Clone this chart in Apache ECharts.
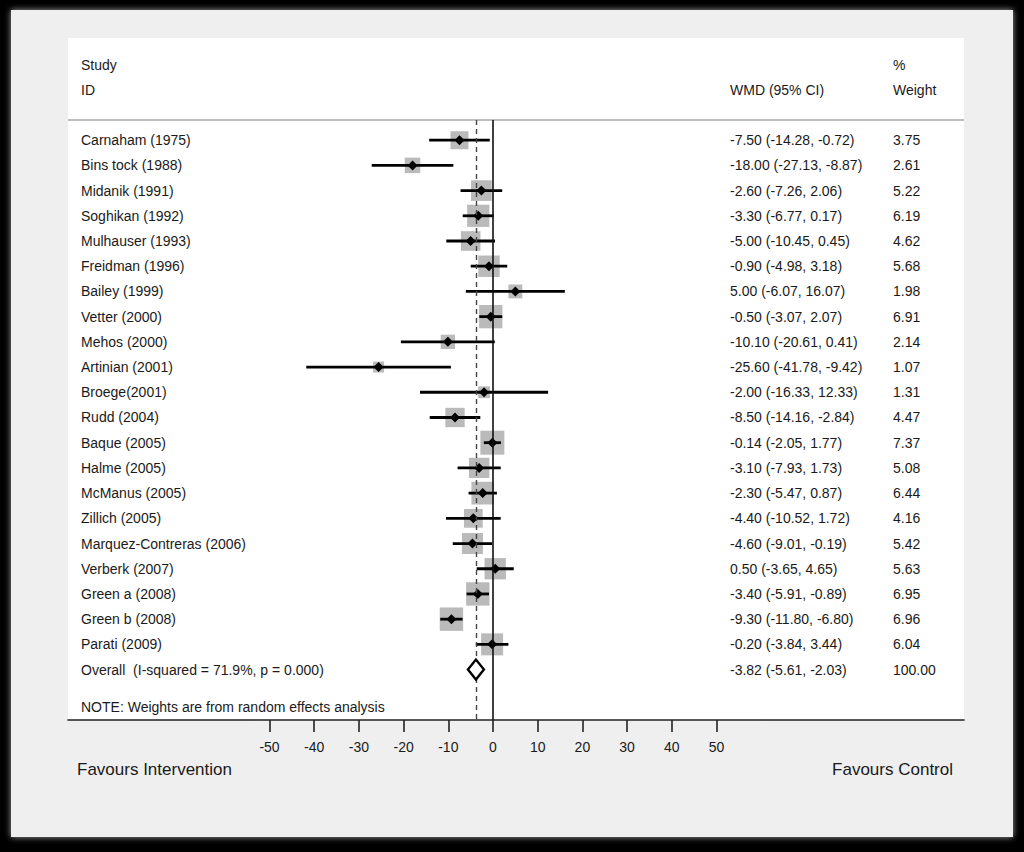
<!DOCTYPE html>
<html>
<head>
<meta charset="utf-8">
<script src="https://cdn.jsdelivr.net/npm/echarts@6/dist/echarts.min.js"></script>
<style>
html,body{margin:0;padding:0;background:#000;}
#chart{width:1024px;height:852px;}
</style>
</head>
<body>
<div id="chart"></div>
<script>
// ---- data ----
const studies = ['Carnaham (1975)', 'Bins tock (1988)', 'Midanik (1991)', 'Soghikan (1992)', 'Mulhauser (1993)',
  'Freidman (1996)', 'Bailey (1999)', 'Vetter (2000)', 'Mehos (2000)', 'Artinian (2001)', 'Broege(2001)',
  'Rudd (2004)', 'Baque (2005)', 'Halme (2005)', 'McManus (2005)', 'Zillich (2005)',
  'Marquez-Contreras (2006)', 'Verberk (2007)', 'Green a (2008)', 'Green b (2008)', 'Parati (2009)'];
const estimates = [-7.50, -18.00, -2.60, -3.30, -5.00, -0.90, 5.00, -0.50, -10.10, -25.60, -2.00,
  -8.50, -0.14, -3.10, -2.30, -4.40, -4.60, 0.50, -3.40, -9.30, -0.20];
const lowerCI = [-14.28, -27.13, -7.26, -6.77, -10.45, -4.98, -6.07, -3.07, -20.61, -41.78, -16.33,
  -14.16, -2.05, -7.93, -5.47, -10.52, -9.01, -3.65, -5.91, -11.80, -3.84];
const upperCI = [-0.72, -8.87, 2.06, 0.17, 0.45, 3.18, 16.07, 2.07, 0.41, -9.42, 12.33,
  -2.84, 1.77, 1.73, 0.87, 1.72, -0.19, 4.65, -0.89, -6.80, 3.44];
const weights = [3.75, 2.61, 5.22, 6.19, 4.62, 5.68, 1.98, 6.91, 2.14, 1.07, 1.31,
  4.47, 7.37, 5.08, 6.44, 4.16, 5.42, 5.63, 6.95, 6.96, 6.04];
const overallLabel = 'Overall  (I-squared = 71.9%, p = 0.000)';
const overallEst = -3.82, overallLo = -5.61, overallHi = -2.03, overallWeight = 100.00;
const noteText = 'NOTE: Weights are from random effects analysis';
const xTicks = [-50, -40, -30, -20, -10, 0, 10, 20, 30, 40, 50];

// ---- layout ----
const FONT = '"Liberation Sans", Arial, Helvetica, sans-serif';
const TXT = '#1a1a1a';
const X_MIN = -95.08, X_MAX = 105.37;
const overallRow = studies.length;       // 21
const noteRow = studies.length + 1.5;    // 22.5

const fmt = v => v.toFixed(2);
const studyRows = studies.map((s, i) => [lowerCI[i], estimates[i], upperCI[i], weights[i], i]);
const textRows = studies.map((s, i) => ({
  value: [0, i],
  name: s,
  wmd: fmt(estimates[i]) + ' (' + fmt(lowerCI[i]) + ', ' + fmt(upperCI[i]) + ')',
  w: fmt(weights[i])
}));
textRows.push({value: [0, overallRow], name: overallLabel,
  wmd: fmt(overallEst) + ' (' + fmt(overallLo) + ', ' + fmt(overallHi) + ')', w: fmt(overallWeight)});
textRows.push({value: [0, noteRow], name: noteText, wmd: '', w: ''});

const chart = echarts.init(document.getElementById('chart'), null, {renderer: 'svg', width: 1024, height: 852});

function txt(x, y, s, size, align) {
  return {type: 'text', x: x, y: y, z: 5,
    style: {text: s, fill: TXT, font: (size || 14) + 'px ' + FONT, textAlign: align || 'left',
      textVerticalAlign: 'middle', verticalAlign: 'middle'}};
}

chart.setOption({
  backgroundColor: '#000',
  animation: false,
  graphic: [
    {type: 'rect', z: -10, shape: {x: 11, y: 10, width: 1002, height: 827},
      style: {fill: '#efefef', shadowBlur: 6, shadowColor: 'rgba(180,180,180,0.9)'}},
    {type: 'rect', z: -9, shape: {x: 68, y: 38, width: 896, height: 682}, style: {fill: '#ffffff'}},
    {type: 'line', z: 3, shape: {x1: 68, y1: 120, x2: 964, y2: 120}, style: {stroke: '#a8a8a8', lineWidth: 1.5}},
    txt(81, 65, 'Study'),
    txt(81, 90, 'ID'),
    txt(730, 90, 'WMD (95% CI)'),
    txt(893, 65, '%'),
    txt(893, 90, 'Weight'),
    txt(77, 769, 'Favours Intervention', 17),
    txt(953, 769, 'Favours Control', 17, 'right')
  ],
  grid: {left: 68, right: 60, top: 120, bottom: 132, containLabel: false},
  xAxis: {
    type: 'value', min: X_MIN, max: X_MAX, position: 'bottom',
    splitLine: {show: false},
    axisLine: {show: true, onZero: false, lineStyle: {color: '#222', width: 1.6}},
    axisTick: {show: true, customValues: xTicks, length: 12, lineStyle: {color: '#222', width: 1.6}},
    axisLabel: {show: true, customValues: xTicks, margin: 20, fontSize: 14, fontFamily: FONT, color: TXT}
  },
  yAxis: {
    type: 'value', inverse: true, min: -0.8, max: 23, show: false
  },
  series: [
    {
      type: 'line', data: [], silent: true,
      markLine: {
        silent: true, symbol: 'none', label: {show: false}, animation: false,
        data: [
          {xAxis: 0, lineStyle: {color: '#111', width: 1.6, type: 'solid'}},
          {xAxis: overallEst, lineStyle: {color: '#444', width: 1.4, type: [5, 4]}}
        ]
      }
    },
    {
      type: 'custom', z: 4, clip: false,
      data: studyRows,
      renderItem: function (params, api) {
        const lo = api.value(0), est = api.value(1), hi = api.value(2), w = api.value(3), row = api.value(4);
        const pL = api.coord([lo, row]), pE = api.coord([est, row]), pH = api.coord([hi, row]);
        const s = 3 + 7.73 * Math.sqrt(w);
        const d = 5;
        return {type: 'group', children: [
          {type: 'rect', shape: {x: pE[0] - s / 2, y: pE[1] - s / 2, width: s, height: s}, style: {fill: '#bababa'}},
          {type: 'line', shape: {x1: pL[0], y1: pL[1], x2: pH[0], y2: pH[1]}, style: {stroke: '#000', lineWidth: 2.8}},
          {type: 'polygon', shape: {points: [[pE[0] - d, pE[1]], [pE[0], pE[1] - d], [pE[0] + d, pE[1]], [pE[0], pE[1] + d]]},
            style: {fill: '#000'}}
        ]};
      }
    },
    {
      type: 'custom', z: 5, clip: false,
      data: [[overallLo, overallEst, overallHi, overallRow]],
      renderItem: function (params, api) {
        const lo = api.coord([api.value(0), api.value(3)]);
        const e = api.coord([api.value(1), api.value(3)]);
        const hi = api.coord([api.value(2), api.value(3)]);
        const h = 10;
        return {type: 'polygon',
          shape: {points: [[lo[0], lo[1]], [e[0], e[1] - h], [hi[0], hi[1]], [e[0], e[1] + h]]},
          style: {fill: '#fff', stroke: '#000', lineWidth: 2.4}};
      }
    },
    {
      type: 'custom', z: 6, clip: false,
      data: textRows,
      renderItem: function (params, api) {
        const item = textRows[params.dataIndex];
        const p = api.coord([0, api.value(1)]);
        const y = p[1];
        return {type: 'group', children: [
          txt(81, y, item.name),
          txt(730, y, item.wmd),
          txt(893, y, item.w)
        ]};
      }
    }
  ]
});
</script>
</body>
</html>
